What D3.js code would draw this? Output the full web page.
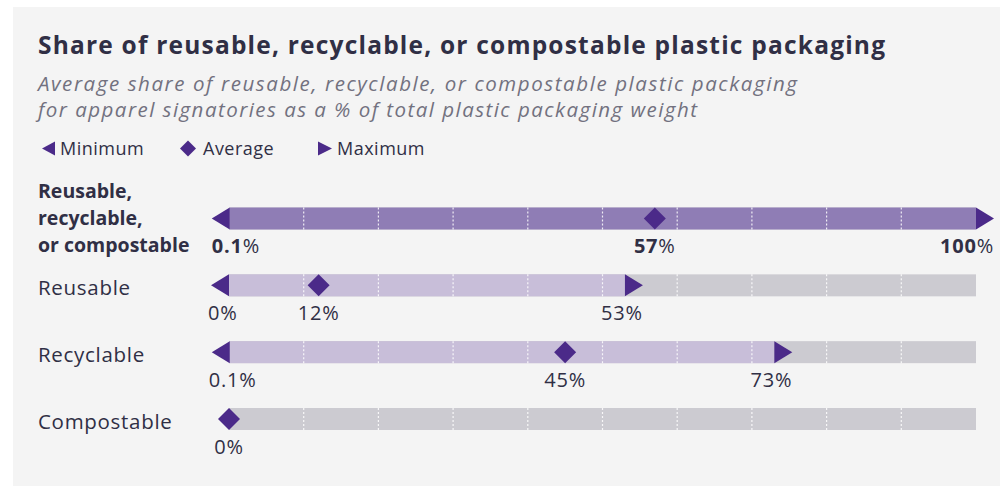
<!DOCTYPE html>
<html>
<head>
<meta charset="utf-8">
<script src="https://cdn.jsdelivr.net/npm/d3@7"></script>
<style>
  body { margin: 0; background: #fff; }
  svg { display: block; font-family: "Open Sans", sans-serif; }
</style>
</head>
<body>
<svg id="chart"></svg>
<script>
  // chart data
  var categories = ["Reusable, recyclable, or compostable", "Reusable", "Recyclable", "Compostable"]
  var labelLines = [["Reusable,", "recyclable,", "or compostable"], ["Reusable"], ["Recyclable"], ["Compostable"]]
  var minValues = [0.1, 0, 0.1, 0]
  var avgValues = [57, 12, 45, 0]
  var maxValues = [100, 53, 73, 0]
  var legendItems = ["Minimum", "Average", "Maximum"]

  var width = 1000
  var height = 486
  var barH = 22
  var triW = 18

  var dark = "#302f45"
  var marker = "#4b2a89"

  var rows = categories.map((c, i) => ({
    name: c, lines: labelLines[i], min: minValues[i], avg: avgValues[i], max: maxValues[i], total: i === 0
  }))

  var x = d3.scaleLinear().domain([0, 100]).range([229, 976])
  var y = d3.scalePoint().domain(categories).range([218.5, 419])

  var svg = d3.select("#chart").attr("width", width).attr("height", height)

  // panel
  svg.append("rect").attr("x", 13).attr("y", 7).attr("width", width - 13).attr("height", height - 7).attr("fill", "#f4f4f4")

  svg.append("text").attr("x", 38).attr("y", 54)
    .attr("font-size", 24.5).attr("font-weight", 700).attr("fill", dark)
    .attr("textLength", 847).attr("lengthAdjust", "spacing")
    .text("Share of reusable, recyclable, or compostable plastic packaging")

  var sub = svg.append("text").attr("font-size", 20.5).attr("font-style", "italic").attr("fill", "#72717f")
  sub.append("tspan").attr("x", 38).attr("y", 91)
    .attr("textLength", 759).attr("lengthAdjust", "spacing")
    .text("Average share of reusable, recyclable, or compostable plastic packaging")
  sub.append("tspan").attr("x", 38).attr("y", 117)
    .attr("textLength", 659).attr("lengthAdjust", "spacing")
    .text("for apparel signatories as a % of total plastic packaging weight")

  // marker shapes, centred on 0 vertically
  function leftTri(w, h) { return `M0,${-h / 2}L0,${h / 2}L${-w},0Z` }
  function rightTri(w, h) { return `M0,${-h / 2}L0,${h / 2}L${w},0Z` }
  function diamond(s) { return `M0,${-s / 2}L${s / 2},0L0,${s / 2}L${-s / 2},0Z` }

  // legend
  var legendX = [55, 188, 318]
  var legendG = svg.append("g").selectAll("g").data(legendItems).enter().append("g")
    .attr("transform", (d, i) => `translate(${legendX[i]},148.5)`)
  legendG.append("path")
    .attr("d", (d, i) => i === 0 ? leftTri(13, 14) : i === 1 ? diamond(16) : rightTri(14, 14))
    .attr("fill", marker)
  legendG.append("text")
    .attr("x", (d, i) => i === 0 ? 5 : i === 1 ? 15 : 19)
    .attr("y", 6.5)
    .attr("font-size", 18).attr("letter-spacing", 0.5).attr("fill", dark)
    .text(d => d)

  // rows
  var rowG = svg.append("g").selectAll("g").data(rows).enter().append("g")
    .attr("transform", d => `translate(0,${y(d.name)})`)

  rowG.append("rect")
    .attr("x", x(0)).attr("y", -barH / 2)
    .attr("width", x(100) - x(0)).attr("height", barH)
    .attr("fill", "#cccbd1")

  rowG.filter(d => d.max > d.min).append("rect")
    .attr("x", d => x(d.min)).attr("y", -barH / 2)
    .attr("width", d => x(d.max) - x(d.min)).attr("height", barH)
    .attr("fill", d => d.total ? "#8f7db5" : "#c8bed9")

  // dotted grid
  var gridTicks = x.ticks(10).filter(t => t > 0 && t < 100)
  rowG.selectAll(".grid").data(gridTicks).enter().append("line")
    .attr("class", "grid")
    .attr("x1", d => x(d)).attr("x2", d => x(d))
    .attr("y1", -barH / 2).attr("y2", barH / 2)
    .attr("stroke", "#ffffff").attr("stroke-opacity", 0.85)
    .attr("stroke-width", 1.2).attr("stroke-dasharray", "2,2")

  var ranged = rowG.filter(d => d.max > d.min)
  ranged.append("path")
    .attr("transform", d => `translate(${x(d.min)},0)`)
    .attr("d", leftTri(triW, barH)).attr("fill", marker)
  ranged.append("path")
    .attr("transform", d => `translate(${x(d.max)},0)`)
    .attr("d", rightTri(triW, barH)).attr("fill", marker)
  rowG.append("path")
    .attr("transform", d => `translate(${x(d.avg)},0)`)
    .attr("d", diamond(barH)).attr("fill", marker)

  // category labels
  rowG.append("text")
    .attr("font-size", d => d.total ? 19.5 : 20.5)
    .attr("letter-spacing", d => d.total ? 0 : 0.7)
    .attr("font-weight", d => d.total ? 700 : 400)
    .attr("fill", dark)
    .selectAll("tspan").data(d => d.lines.map((l, i) => ({ l: l, i: i, n: d.lines.length })))
    .enter().append("tspan")
    .attr("x", 38)
    .attr("y", t => t.n > 1 ? 33.5 - (t.n - 1 - t.i) * 27 : 9.5)
    .text(t => t.l)

  // value labels
  function valueLabel(g, d, v, anchor, xpos) {
    var t = g.append("text")
      .attr("x", xpos).attr("y", 34.5)
      .attr("font-size", 20).attr("letter-spacing", 0.8).attr("fill", dark)
      .attr("text-anchor", anchor)
    t.append("tspan").attr("font-weight", d.total ? 700 : 400).text(String(v))
    t.append("tspan").text("%")
    return t
  }

  rowG.each(function(d) {
    var g = d3.select(this)
    if (d.max > d.min) {
      valueLabel(g, d, d.min, "start", x(d.min) - triW - 3 + (d.total ? 3 : 0))
      valueLabel(g, d, d.avg, "middle", x(d.avg))
      var t = valueLabel(g, d, d.max, "middle", x(d.max))
      var w = t.node().getComputedTextLength()
      if (x(d.max) + w / 2 > x(d.max) + triW) t.attr("text-anchor", "end").attr("x", x(d.max) + triW)
    } else {
      valueLabel(g, d, d.avg, "middle", x(d.avg))
    }
  })
</script>
</body>
</html>
